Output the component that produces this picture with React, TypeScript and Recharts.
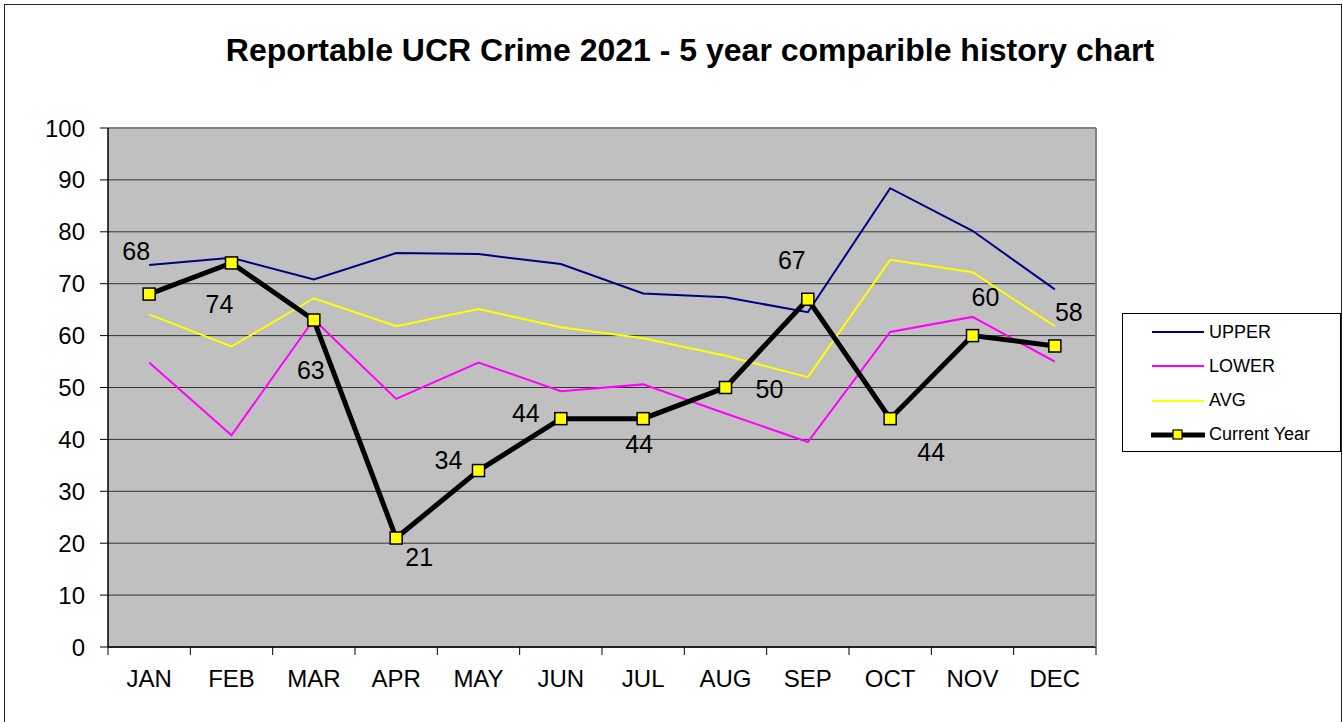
import React from "react";
import {
  CartesianGrid,
  LabelList,
  Line,
  LineChart,
  ReferenceLine,
  XAxis,
  YAxis,
} from "recharts";

const MONTHS = ["JAN", "FEB", "MAR", "APR", "MAY", "JUN", "JUL", "AUG", "SEP", "OCT", "NOV", "DEC"];
const UPPER = [73.6, 75.0, 70.8, 75.9, 75.7, 73.8, 68.1, 67.4, 64.5, 88.4, 80.2, 68.9];
const LOWER = [54.8, 40.8, 63.1, 47.8, 54.8, 49.3, 50.6, 45.0, 39.5, 60.7, 63.6, 55.0];
const AVG = [64.1, 57.9, 67.2, 61.8, 65.1, 61.6, 59.5, 56.1, 52.0, 74.6, 72.2, 61.8];
const CURRENT = [68, 74, 63, 21, 34, 44, 44, 50, 67, 44, 60, 58];
const Y_TICKS = [0, 10, 20, 30, 40, 50, 60, 70, 80, 90, 100];

// where each value label sits relative to its marker
const LABEL_DX = [-13, -12, -3, 23, -30, -35, -4, 44, -16, 41, 13, 14];
const LABEL_DY = [-43, 41, 50, 19, -11, -6, 25, 1, -39, 33, -39, -34];

const SERIES = [
  { key: "upper", name: "UPPER", color: "#000080" },
  { key: "lower", name: "LOWER", color: "#FF00FF" },
  { key: "avg", name: "AVG", color: "#FFFF00" },
  { key: "current", name: "Current Year", color: "#000000" },
];

const W = 1343;
const H = 722;
const PLOT_LEFT = 108;
const PLOT_RIGHT = 1096;
const PLOT_TOP = 128;
const PLOT_BOTTOM = 647;
const Y_AXIS_W = 60;
const X_AXIS_H = 40;
const BAND = (PLOT_RIGHT - PLOT_LEFT) / MONTHS.length;
const FONT = "'Liberation Sans', Arial, sans-serif";

const data = MONTHS.map((m, i) => ({
  month: m,
  upper: UPPER[i],
  lower: LOWER[i],
  avg: AVG[i],
  current: CURRENT[i],
}));

function MonthTick(props: any) {
  const { x, index, payload } = props;
  const left = x - BAND / 2;
  const last = index === MONTHS.length - 1;
  return (
    <g>
      <line x1={left} x2={left} y1={PLOT_BOTTOM} y2={PLOT_BOTTOM + 8} stroke="#000" />
      {last && (
        <>
          <line x1={x + BAND / 2} x2={x + BAND / 2} y1={PLOT_BOTTOM} y2={PLOT_BOTTOM + 8} stroke="#000" />
          <line x1={x + BAND / 2} x2={x + BAND / 2} y1={PLOT_TOP} y2={PLOT_BOTTOM} stroke="#808080" strokeWidth={2} />
        </>
      )}
      <text x={x} y={PLOT_BOTTOM + 31} textAnchor="middle" dominantBaseline="central" fontSize={24} fill="#000">
        {payload.value}
      </text>
    </g>
  );
}

function SquareDot(props: any) {
  const { cx, cy, index } = props;
  if (cx == null || cy == null) return null;
  return (
    <rect key={index} x={cx - 6} y={cy - 6} width={12} height={12} fill="#FFFF00" stroke="#000" strokeWidth={1.5} />
  );
}

function ValueLabel(props: any) {
  const { x, y, value, index } = props;
  return (
    <text
      x={x + LABEL_DX[index]}
      y={y + LABEL_DY[index]}
      textAnchor="middle"
      dominantBaseline="central"
      fontSize={25}
      fill="#000"
    >
      {value}
    </text>
  );
}

function LegendBox() {
  return (
    <div
      style={{
        position: "absolute",
        left: 1122,
        top: 313,
        width: 217,
        height: 137,
        border: "1px solid #000",
        background: "#fff",
        fontSize: 18,
      }}
    >
      {SERIES.map((s, i) => (
        <div
          key={s.key}
          style={{ position: "absolute", left: 28, top: 8 + i * 34.3, height: 20, display: "flex", alignItems: "center" }}
        >
          <svg width={54} height={18}>
            <line
              x1={1}
              x2={53}
              y1={9}
              y2={9}
              stroke={s.color}
              strokeWidth={s.key === "current" ? 5 : 2}
              strokeLinecap={s.key === "current" ? "round" : "butt"}
            />
            {s.key === "current" && (
              <rect x={22} y={4} width={9} height={9} fill="#FFFF00" stroke="#000" strokeWidth={1.2} />
            )}
          </svg>
          <span style={{ marginLeft: 4 }}>{s.name}</span>
        </div>
      ))}
    </div>
  );
}

export default function App() {
  return (
    <div
      style={{
        position: "absolute",
        left: 0,
        top: 0,
        width: W,
        height: H,
        overflow: "hidden",
        background: "#fff",
        fontFamily: FONT,
      }}
    >
      <div
        style={{
          position: "absolute",
          left: 4,
          top: 4,
          width: 1336,
          height: 740,
          border: "1px solid #222",
        }}
      />
      <div
        style={{
          position: "absolute",
          left: 0,
          width: 1380,
          top: 34,
          textAlign: "center",
          fontSize: 32,
          lineHeight: 1,
          fontWeight: "bold",
        }}
      >
        Reportable UCR Crime 2021 - 5 year comparible history chart
      </div>
      <div style={{ position: "absolute", left: 0, top: 0 }}>
        <LineChart
          width={W}
          height={H}
          data={data}
          margin={{
            top: PLOT_TOP,
            right: W - PLOT_RIGHT,
            left: PLOT_LEFT - Y_AXIS_W,
            bottom: H - PLOT_BOTTOM - X_AXIS_H,
          }}
          style={{ fontFamily: FONT }}
        >
          <CartesianGrid vertical={false} fill="#C0C0C0" stroke="#333" strokeOpacity={1} />
          <ReferenceLine y={100} stroke="#808080" strokeWidth={2} />
          <XAxis
            dataKey="month"
            height={X_AXIS_H}
            padding={{ left: BAND / 2, right: BAND / 2 }}
            tickLine={false}
            axisLine={{ stroke: "#000", strokeWidth: 1.5 }}
            tick={<MonthTick />}
            interval={0}
          />
          <YAxis
            domain={[0, 100]}
            ticks={Y_TICKS}
            width={Y_AXIS_W}
            tick={{ fontSize: 24, fill: "#000" }}
            tickLine={{ stroke: "#000" }}
            tickSize={8}
            tickMargin={15}
            axisLine={{ stroke: "#000", strokeWidth: 1.5 }}
            interval={0}
          />
          <Line type="linear" dataKey="upper" stroke="#000080" strokeWidth={2} dot={false} activeDot={false} isAnimationActive={false} />
          <Line type="linear" dataKey="lower" stroke="#FF00FF" strokeWidth={2} dot={false} activeDot={false} isAnimationActive={false} />
          <Line type="linear" dataKey="avg" stroke="#FFFF00" strokeWidth={2} dot={false} activeDot={false} isAnimationActive={false} />
          <Line
            type="linear"
            dataKey="current"
            stroke="#000"
            strokeWidth={5}
            dot={<SquareDot />}
            activeDot={false}
            isAnimationActive={false}
          >
            <LabelList dataKey="current" content={<ValueLabel />} />
          </Line>
        </LineChart>
      </div>
      <LegendBox />
    </div>
  );
}
